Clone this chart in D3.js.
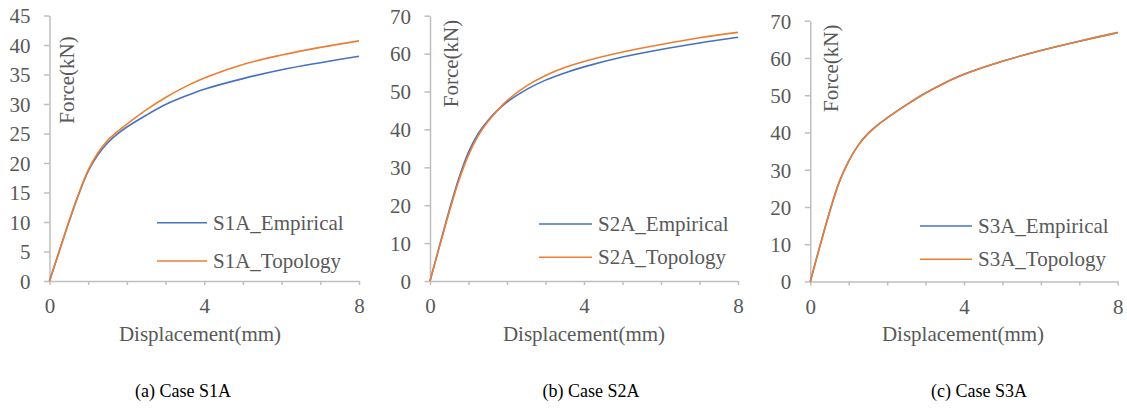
<!DOCTYPE html>
<html>
<head>
<meta charset="utf-8">
<script src="https://cdn.jsdelivr.net/npm/d3@7/dist/d3.min.js"></script>
<style>
  html, body { margin: 0; padding: 0; background: #fff; }
  svg { display: block; }
  text { font-family: "Liberation Serif", "Times New Roman", serif; }
</style>
</head>
<body>
<svg id="chart" width="1127" height="410"></svg>
<script>
// Displacement sample points (mm), shared by every curve
const DISP = [0, 0.25, 0.5, 0.75, 1, 1.25, 1.5, 1.75, 2, 2.5, 3, 3.5, 4, 5, 6, 7, 8];

// Force (kN) for each case and method
const S1A_EMPIRICAL = [0, 5.0, 10.0, 14.6, 18.6, 21.4, 23.4, 24.9, 26.1, 28.1, 29.9, 31.3, 32.5, 34.3, 35.8, 37.0, 38.1];
const S1A_TOPOLOGY  = [0, 5.0, 10.0, 14.7, 18.8, 21.7, 23.8, 25.3, 26.6, 29.0, 31.1, 32.9, 34.4, 36.7, 38.3, 39.6, 40.7];

const S2A_EMPIRICAL = [0, 9.4, 18.7, 27.1, 34.0, 38.9, 42.3, 45.0, 47.2, 50.5, 53.0, 54.9, 56.5, 59.1, 61.1, 62.8, 64.3];
const S2A_TOPOLOGY  = [0, 9.2, 18.2, 26.5, 33.2, 38.3, 42.0, 45.0, 47.6, 51.4, 54.2, 56.3, 57.9, 60.4, 62.4, 64.2, 65.6];

const S3A_EMPIRICAL = [0, 9.5, 18.6, 26.6, 32.3, 36.6, 39.7, 42.0, 43.9, 47.4, 50.6, 53.3, 55.6, 59.1, 62.0, 64.5, 66.8];
const S3A_TOPOLOGY  = [0, 9.5, 18.6, 26.6, 32.3, 36.6, 39.7, 42.0, 43.9, 47.4, 50.6, 53.3, 55.6, 59.1, 62.0, 64.5, 66.8];

// Tick values
const X_TICKS = [0, 1, 2, 3, 4, 5, 6, 7, 8];
const X_LABELS = [0, 4, 8];
const Y_TICKS_S1A = [0, 5, 10, 15, 20, 25, 30, 35, 40, 45];
const Y_TICKS_S2A = [0, 10, 20, 30, 40, 50, 60, 70];
const Y_TICKS_S3A = [0, 10, 20, 30, 40, 50, 60, 70];

// Text
const CAPTIONS = ["(a) Case S1A", "(b) Case S2A", "(c) Case S3A"];
const X_TITLE = "Displacement(mm)";
const Y_TITLE = "Force(kN)";

const COLORS = { Empirical: "#4472C4", Topology: "#ED7D31" };
const TEXT_GREY = "#595959";
const AXIS_GREY = "#bfbfbf";

// Layout of the three panels
const panels = [
  { key: "S1A", emp: S1A_EMPIRICAL, top: S1A_TOPOLOGY, yMax: 45, yTicks: Y_TICKS_S1A,
    x0: 49.5, x1: 359, yTop: 15.5, yBot: 281,
    yTitleX: 74, yTitleY: 80, xTitleX: 200, capX: 183,
    legX0: 157, legX1: 207, legY: [222.7, 261] },
  { key: "S2A", emp: S2A_EMPIRICAL, top: S2A_TOPOLOGY, yMax: 70, yTicks: Y_TICKS_S2A,
    x0: 430, x1: 738, yTop: 15.7, yBot: 281,
    yTitleX: 458, yTitleY: 63.5, xTitleX: 584, capX: 591,
    legX0: 539, legX1: 592, legY: [224, 257.3] },
  { key: "S3A", emp: S3A_EMPIRICAL, top: S3A_TOPOLOGY, yMax: 70, yTicks: Y_TICKS_S3A,
    x0: 810.3, x1: 1117.7, yTop: 20.7, yBot: 281.5,
    yTitleX: 838, yTitleY: 68.3, xTitleX: 963, capX: 979,
    legX0: 920, legX1: 972, legY: [226, 259.3] }
];

const svg = d3.select("#chart");

panels.forEach((p, i) => {
  const g = svg.append("g");
  const x = d3.scaleLinear().domain([0, 8]).range([p.x0, p.x1]);
  const y = d3.scaleLinear().domain([0, p.yMax]).range([p.yBot, p.yTop]);

  // y axis
  const yAxis = g.append("g")
    .attr("transform", `translate(${p.x0},0)`)
    .call(d3.axisLeft(y).tickValues(p.yTicks).tickSize(5.5).tickSizeOuter(0).tickPadding(13.5));
  yAxis.select(".domain").attr("stroke", AXIS_GREY).attr("stroke-width", 1.5);
  yAxis.selectAll(".tick line").attr("stroke", AXIS_GREY).attr("stroke-width", 1.5);
  yAxis.selectAll(".tick text")
    .attr("fill", TEXT_GREY).style("font-size", "21px").attr("dy", "0.35em");

  // x axis with a minor tick at every millimetre
  const xAxis = g.append("g")
    .attr("transform", `translate(0,${p.yBot})`)
    .call(d3.axisBottom(x).tickValues(X_TICKS).tickSize(4).tickSizeOuter(0)
      .tickFormat(d => X_LABELS.includes(d) ? String(d) : ""));
  xAxis.select(".domain").attr("stroke", AXIS_GREY).attr("stroke-width", 1.5);
  xAxis.selectAll(".tick line").attr("stroke", AXIS_GREY).attr("stroke-width", 1.5);
  xAxis.selectAll(".tick text")
    .attr("fill", TEXT_GREY).style("font-size", "21px").attr("y", 32).attr("dy", 0);

  // smooth load-displacement curves
  const line = d3.line()
    .x((d, j) => x(DISP[j]))
    .y(d => y(d))
    .curve(d3.curveCatmullRom.alpha(0.5));

  const series = [
    { name: "Empirical", values: p.emp },
    { name: "Topology", values: p.top }
  ];

  g.selectAll("path.curve").data(series).enter().append("path")
    .attr("class", "curve")
    .attr("d", s => line(s.values))
    .attr("fill", "none")
    .attr("stroke", s => COLORS[s.name])
    .attr("stroke-width", 1.6)
    .attr("stroke-linejoin", "round");

  // legend
  series.forEach((s, k) => {
    g.append("line")
      .attr("x1", p.legX0).attr("x2", p.legX1)
      .attr("y1", p.legY[k]).attr("y2", p.legY[k])
      .attr("stroke", COLORS[s.name]).attr("stroke-width", 1.6);
    g.append("text")
      .attr("x", p.legX1 + 6).attr("y", p.legY[k] + 7)
      .attr("fill", TEXT_GREY).style("font-size", "21px")
      .text(`${p.key}_${s.name}`);
  });

  // axis titles
  g.append("text")
    .attr("transform", `translate(${p.yTitleX},${p.yTitleY}) rotate(-90)`)
    .attr("text-anchor", "middle")
    .attr("fill", TEXT_GREY).style("font-size", "21px")
    .text(Y_TITLE);

  g.append("text")
    .attr("x", p.xTitleX).attr("y", 340.7)
    .attr("text-anchor", "middle")
    .attr("fill", TEXT_GREY).style("font-size", "21px")
    .text(X_TITLE);

  // caption
  g.append("text")
    .attr("x", p.capX).attr("y", 397)
    .attr("text-anchor", "middle")
    .attr("fill", "#000").style("font-size", "18px")
    .text(CAPTIONS[i]);
});
</script>
</body>
</html>
